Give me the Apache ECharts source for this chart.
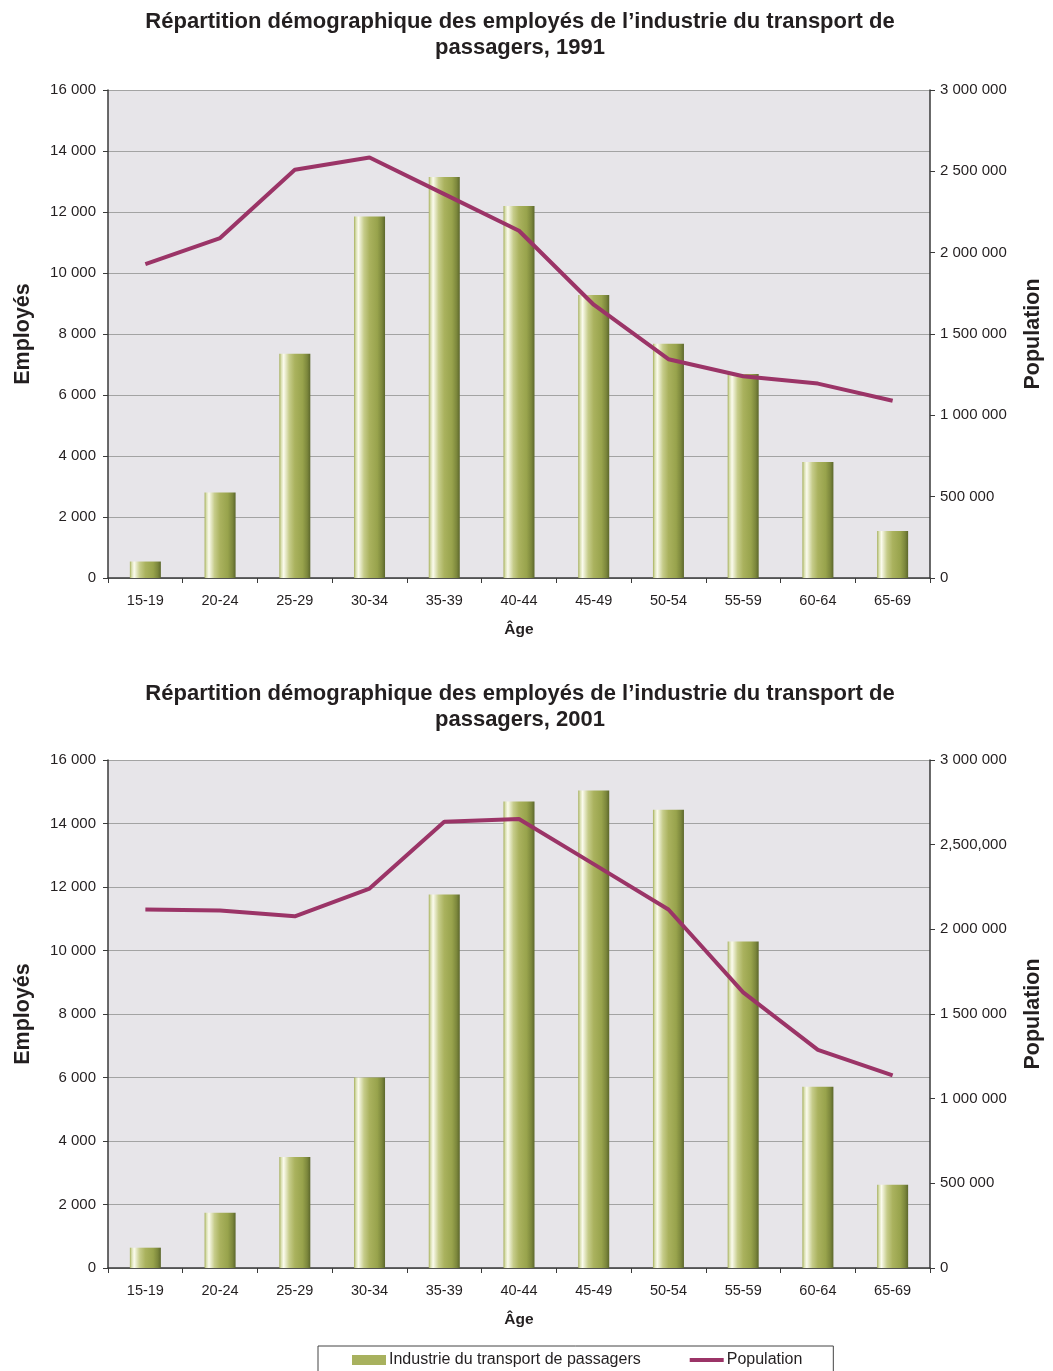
<!DOCTYPE html>
<html>
<head>
<meta charset="utf-8">
<script src="https://cdn.jsdelivr.net/npm/echarts@6/dist/echarts.min.js"></script>
<style>
html,body{margin:0;padding:0;background:#fff;}
#main{width:1053px;height:1371px;}
</style>
</head>
<body>
<div id="main"></div>
<script>
// ---- Data ----
const ageGroups = ['15-19','20-24','25-29','30-34','35-39','40-44','45-49','50-54','55-59','60-64','65-69'];
const employes1991 = [540, 2800, 7350, 11850, 13150, 12200, 9280, 7680, 6690, 3800, 1540];
const population1991 = [1930000, 2090000, 2510000, 2585000, 2360000, 2135000, 1680000, 1345000, 1240000, 1195000, 1090000];
const employes2001 = [640, 1740, 3500, 6000, 11760, 14690, 15040, 14430, 10280, 5710, 2620];
const population2001 = [2117000, 2111000, 2077000, 2241000, 2636000, 2652000, 2385000, 2117000, 1628000, 1288000, 1138000];
const title1991 = 'Répartition démographique des employés de l’industrie du transport de\npassagers, 1991';
const title2001 = 'Répartition démographique des employés de l’industrie du transport de\npassagers, 2001';
const barName = 'Industrie du transport de passagers';
const lineName = 'Population';

// ---- Styles ----
const FONT = '"Liberation Sans", Arial, sans-serif';
const TXT = '#231f20';
const lineColor = '#9b3467';
const barGradient = new echarts.graphic.LinearGradient(0, 0, 1, 0, [
  {offset: 0, color: '#a4ae58'},
  {offset: 0.06, color: '#d9dfb0'},
  {offset: 0.14, color: '#fbfbee'},
  {offset: 0.32, color: '#c6cc8a'},
  {offset: 0.5, color: '#aab25e'},
  {offset: 0.75, color: '#98a34c'},
  {offset: 0.9, color: '#7c873c'},
  {offset: 1, color: '#5c672c'}
]);

function fmt(v, commas) {
  const s = String(Math.round(v));
  const sep = commas ? ',' : ' ';
  return s.replace(/\B(?=(\d{3})+(?!\d))/g, sep);
}

const grids = [
  {left: 108, right: 123, top: 90, height: 488},
  {left: 108, right: 123, top: 760, height: 508}
];

function xAxis(gi) {
  return {
    type: 'category', gridIndex: gi, data: ageGroups, boundaryGap: true,
    name: 'Âge', nameLocation: 'middle', nameGap: 44,
    nameTextStyle: {fontFamily: FONT, fontSize: 15.5, fontWeight: 'bold', color: TXT},
    axisLine: {show: true, lineStyle: {color: '#3a3a3a', width: 1.5}},
    axisTick: {show: true, alignWithLabel: false, length: 5, lineStyle: {color: '#3a3a3a'}},
    axisLabel: {fontFamily: FONT, fontSize: 14.5, color: TXT, margin: 15, interval: 0},
    splitLine: {show: false}
  };
}
function yLeft(gi) {
  return {
    type: 'value', gridIndex: gi, position: 'left', min: 0, max: 16000, interval: 2000,
    name: 'Employés', nameLocation: 'middle', nameRotate: 90, nameGap: 74,
    nameTextStyle: {fontFamily: FONT, fontSize: 21.5, fontWeight: 'bold', color: TXT},
    axisLine: {show: true, lineStyle: {color: '#3a3a3a', width: 1.5}},
    axisTick: {show: true, length: 5, lineStyle: {color: '#3a3a3a'}},
    axisLabel: {fontFamily: FONT, fontSize: 15, color: TXT, margin: 12, formatter: v => fmt(v, false)},
    splitLine: {show: true, lineStyle: {color: '#a3a3a3', width: 1.2}}
  };
}
function yRight(gi, commaMid) {
  return {
    type: 'value', gridIndex: gi, position: 'right', min: 0, max: 3000000, interval: 500000,
    name: 'Population', nameLocation: 'middle', nameRotate: 90, nameGap: 92,
    nameTextStyle: {fontFamily: FONT, fontSize: 21.5, fontWeight: 'bold', color: TXT},
    axisLine: {show: true, lineStyle: {color: '#3a3a3a', width: 1.5}},
    axisTick: {show: true, length: 5, lineStyle: {color: '#3a3a3a'}},
    axisLabel: {fontFamily: FONT, fontSize: 15, color: TXT, margin: 10,
      formatter: v => fmt(v, commaMid && v === 2500000)},
    splitLine: {show: false}
  };
}
function barSeries(gi, data) {
  return {
    name: barName, type: 'bar', xAxisIndex: gi, yAxisIndex: gi * 2, data: data,
    barWidth: 31, itemStyle: {color: barGradient}, z: 2
  };
}
function lineSeries(gi, data) {
  return {
    name: lineName, type: 'line', xAxisIndex: gi, yAxisIndex: gi * 2 + 1, data: data,
    symbol: 'none', lineStyle: {color: lineColor, width: 4}, itemStyle: {color: lineColor}, z: 3
  };
}

const chart = echarts.init(document.getElementById('main'), null, {renderer: 'canvas'});
chart.setOption({
  animation: false,
  backgroundColor: '#ffffff',
  title: [
    {text: title1991, left: 515, top: 4, textAlign: 'center',
     textStyle: {fontFamily: FONT, fontSize: 22, fontWeight: 'bold', color: TXT, lineHeight: 26}},
    {text: title2001, left: 515, top: 676, textAlign: 'center',
     textStyle: {fontFamily: FONT, fontSize: 22, fontWeight: 'bold', color: TXT, lineHeight: 26}}
  ],
  grid: grids.map(g => Object.assign({show: true, backgroundColor: '#e7e5e9', borderWidth: 0}, g)),
  xAxis: [xAxis(0), xAxis(1)],
  yAxis: [yLeft(0), yRight(0, false), yLeft(1), yRight(1, true)],
  legend: {
    left: 318, top: 1346,
    padding: [6, 31, 10, 34],
    borderColor: '#444', borderWidth: 1,
    itemGap: 49, itemWidth: 34, itemHeight: 10,
    textStyle: {fontFamily: FONT, fontSize: 16, color: TXT, padding: [0, 0, 0, -2]},
    data: [
      {name: barName, icon: 'rect', itemStyle: {color: '#a8b15e'}},
      {name: lineName, icon: 'path://M0,0 L34,0 L34,4 L0,4 Z', itemStyle: {color: lineColor}}
    ]
  },
  series: [
    barSeries(0, employes1991), lineSeries(0, population1991),
    barSeries(1, employes2001), lineSeries(1, population2001)
  ]
});
</script>
</body>
</html>
